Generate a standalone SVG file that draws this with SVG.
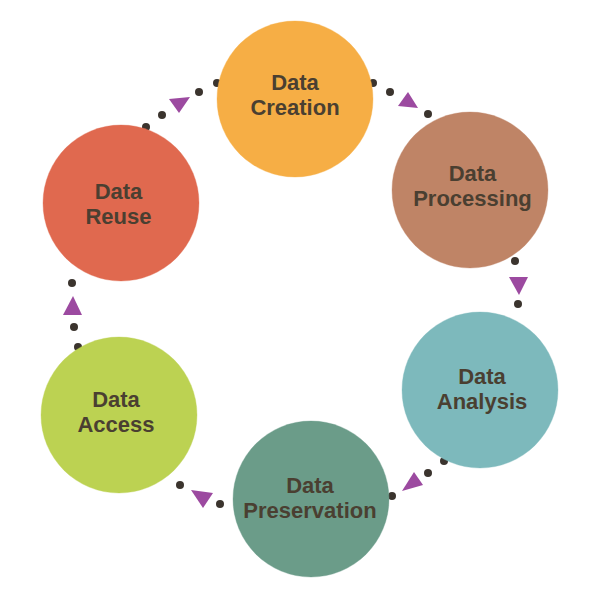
<svg xmlns="http://www.w3.org/2000/svg" width="600" height="598" viewBox="0 0 600 598">
<style>
.dot{fill:#3b342e}
.tri{fill:#9c4aa0}
.node{stroke-width:1;stroke-opacity:0.35}
.lbl{font-family:"Liberation Sans",Arial,sans-serif;font-weight:bold;font-size:22px;fill:#4a3f31;text-anchor:middle}
</style>
<rect width="600" height="598" fill="#ffffff"/>
<g id="connectors">
  <g id="reuse-to-creation">
    <circle class="dot" cx="146" cy="127" r="4"/>
    <circle class="dot" cx="162" cy="115" r="4"/>
    <polygon class="tri" points="169,99 190,97 179,113"/>
    <circle class="dot" cx="199" cy="92" r="4"/>
    <circle class="dot" cx="217" cy="83" r="4"/>
  </g>
  <g id="creation-to-processing">
    <circle class="dot" cx="373" cy="83" r="4"/>
    <circle class="dot" cx="390" cy="92" r="4"/>
    <polygon class="tri" points="398,106 418,108 408,92"/>
    <circle class="dot" cx="428" cy="114" r="4"/>
  </g>
  <g id="processing-to-analysis">
    <circle class="dot" cx="515" cy="261" r="4"/>
    <polygon class="tri" points="509,277 528,277 519,295"/>
    <circle class="dot" cx="518" cy="304" r="4"/>
  </g>
  <g id="analysis-to-preservation">
    <circle class="dot" cx="444" cy="461" r="4"/>
    <circle class="dot" cx="428" cy="473" r="4"/>
    <polygon class="tri" points="402,491 423,485 414,472"/>
    <circle class="dot" cx="392" cy="496" r="4"/>
  </g>
  <g id="preservation-to-access">
    <circle class="dot" cx="220" cy="504" r="4"/>
    <polygon class="tri" points="191,490 213,493 203,508"/>
    <circle class="dot" cx="180" cy="485" r="4"/>
  </g>
  <g id="access-to-reuse">
    <circle class="dot" cx="78" cy="347" r="4"/>
    <circle class="dot" cx="74" cy="327" r="4"/>
    <polygon class="tri" points="63,315 82,315 73,296"/>
    <circle class="dot" cx="72" cy="283" r="4"/>
  </g>
</g>
<g id="node-creation">
  <circle class="node" cx="295" cy="99" r="78" fill="#f6ae45" stroke="#f6ae45"/>
  <text class="lbl" x="295" y="90">Data</text>
  <text class="lbl" x="295" y="115">Creation</text>
</g>
<g id="node-processing">
  <circle class="node" cx="470" cy="190" r="78" fill="#bf8466" stroke="#bf8466"/>
  <text class="lbl" x="472.5" y="181">Data</text>
  <text class="lbl" x="472.5" y="206">Processing</text>
</g>
<g id="node-analysis">
  <circle class="node" cx="480" cy="390" r="78" fill="#7db9bc" stroke="#7db9bc"/>
  <text class="lbl" x="482" y="383.5">Data</text>
  <text class="lbl" x="482" y="408.5">Analysis</text>
</g>
<g id="node-preservation">
  <circle class="node" cx="311" cy="499" r="78" fill="#6b9c89" stroke="#6b9c89"/>
  <text class="lbl" x="310" y="493">Data</text>
  <text class="lbl" x="310" y="518">Preservation</text>
</g>
<g id="node-access">
  <circle class="node" cx="119" cy="415" r="78" fill="#bcd252" stroke="#bcd252"/>
  <text class="lbl" x="116" y="407">Data</text>
  <text class="lbl" x="116" y="432">Access</text>
</g>
<g id="node-reuse">
  <circle class="node" cx="121" cy="203" r="78" fill="#e0694f" stroke="#e0694f"/>
  <text class="lbl" x="118.5" y="198.5">Data</text>
  <text class="lbl" x="118.5" y="223.5">Reuse</text>
</g>
</svg>
